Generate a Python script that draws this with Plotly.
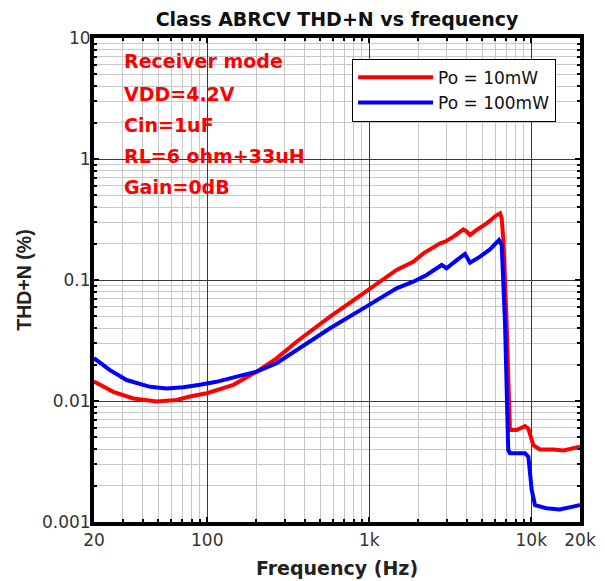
import plotly.graph_objects as go

# ---- data ----
freq_10mw = [20, 26.3, 35, 48.7, 64.7, 78, 99.4, 145, 202, 268, 356, 573, 919, 1475,
             1870, 2160, 2740, 2940, 3310, 3810, 4000, 4190, 4600, 5310, 6120, 6420,
             6570, 6730, 7050, 7390, 8130, 9150, 9600, 10300, 11300, 13700, 15800, 19000, 20000]
thd_10mw = [0.0145, 0.0119, 0.0105, 0.0099, 0.0102, 0.0109, 0.0116, 0.0136, 0.0175, 0.0225,
            0.0309, 0.0498, 0.0776, 0.121, 0.1416, 0.166, 0.201, 0.207, 0.228, 0.262, 0.251,
            0.235, 0.259, 0.294, 0.344, 0.356, 0.324, 0.214, 0.0438, 0.00575, 0.00575, 0.0062,
            0.0059, 0.00432, 0.00398, 0.00398, 0.0039, 0.0041, 0.0042]

freq_100mw = [20, 25.1, 31.8, 44.4, 56.2, 71.2, 90.2, 114, 152, 202, 268, 356, 573, 919,
              1475, 1870, 2260, 2800, 3000, 3470, 3900, 4190, 4830, 5560, 6320, 6570, 6890,
              7210, 7390, 9150, 9600, 10070, 10550, 12400, 15000, 19000, 20000]
thd_100mw = [0.0226, 0.018, 0.0149, 0.0131, 0.0127, 0.013, 0.0136, 0.0144, 0.0159, 0.0175,
             0.0205, 0.0264, 0.0399, 0.0583, 0.0853, 0.0968, 0.110, 0.133, 0.125, 0.146,
             0.164, 0.139, 0.156, 0.179, 0.214, 0.195, 0.0438, 0.00394, 0.0037, 0.0037,
             0.00347, 0.00184, 0.00138, 0.0013, 0.00127, 0.00136, 0.00138]

series_names = ["Po = 10mW", "Po = 100mW"]
series_colors = ["#ff0000", "#0000ff"]

x_tickvals = [20, 100, 1000, 10000, 20000]
x_ticktext = ["20", "100", "1k", "10k", "20k"]
y_tickvals = [0.001, 0.01, 0.1, 1, 10]
y_ticktext = ["0.001", "0.01", "0.1", "1", "10"]

notes = ["Receiver mode", "VDD=4.2V", "Cin=1uF", "RL=6 ohm+33uH", "Gain=0dB"]

# minor grid positions (2..9 per decade)
x_minor = [m * d for d in (10, 100, 1000) for m in range(2, 10) if 20 < m * d < 20000]
y_minor = [m * d for d in (0.001, 0.01, 0.1, 1) for m in range(2, 10)]

FONT = "DejaVu Sans, Arial, sans-serif"
FONT_ARIAL = "Arial, Liberation Sans, sans-serif"

fig = go.Figure()
for fx, fy, name, col in [(freq_10mw, thd_10mw, series_names[0], series_colors[0]),
                          (freq_100mw, thd_100mw, series_names[1], series_colors[1])]:
    fig.add_trace(go.Scatter(x=fx, y=fy, mode="lines", name=name,
                             line=dict(color=col, width=4)))

axis_common = dict(
    showline=True, linewidth=4, linecolor="black", mirror="allticks",
    ticks="inside", ticklen=5, tickwidth=1.5, tickcolor="black",
    showgrid=True, gridcolor="#3a3a3a", gridwidth=1,
    tickfont=dict(family=FONT, size=17, color="#333333"),
    zeroline=False, automargin=False,
)

fig.update_xaxes(
    type="log", range=[1.30103, 4.30103],
    tickmode="array", tickvals=x_tickvals, ticktext=x_ticktext,
    minor=dict(tickmode="array", tickvals=x_minor, ticks="inside", ticklen=3,
               tickcolor="black", showgrid=True, gridcolor="#c8c8c8", gridwidth=1),
    title=dict(text="<b>Frequency (Hz)</b>", font=dict(family=FONT, size=19, color="#222222"),
               standoff=13),
    **axis_common,
)
fig.update_yaxes(
    type="log", range=[-3, 1],
    tickmode="array", tickvals=y_tickvals, ticktext=y_ticktext,
    ticklabelstandoff=-4,
    minor=dict(tickmode="array", tickvals=y_minor, ticks="inside", ticklen=3,
               tickcolor="black", showgrid=True, gridcolor="#c8c8c8", gridwidth=1),
    title=dict(text="<b>THD+N (%)</b>", font=dict(family=FONT_ARIAL, size=19.5, color="#222222"),
               standoff=6),
    **axis_common,
)

note_y = [0.952, 0.884, 0.820, 0.757, 0.693]
for txt, yy in zip(notes, note_y):
    fig.add_annotation(text="<b>" + txt + "</b>", xref="paper", yref="paper",
                       x=0.058, y=yy, xanchor="left", yanchor="middle", showarrow=False,
                       font=dict(family=FONT, size=19, color="#ff0000"))

fig.update_layout(
    width=605, height=581,
    margin=dict(l=86, r=33, t=30, b=67),
    paper_bgcolor="white", plot_bgcolor="white",
    title=dict(text="<b>Class ABRCV THD+N vs frequency</b>", x=0.5, xref="paper",
               y=1 - 11 / 581, yref="container", yanchor="middle", xanchor="center",
               font=dict(family=FONT, size=19, color="#111111")),
    legend=dict(x=0.531, y=0.957, xanchor="left", yanchor="top",
                bgcolor="white", bordercolor="black", borderwidth=1,
                font=dict(family=FONT, size=17, color="#111111"),
                itemwidth=75),
    showlegend=True,
)

fig.write_html("out.html")
